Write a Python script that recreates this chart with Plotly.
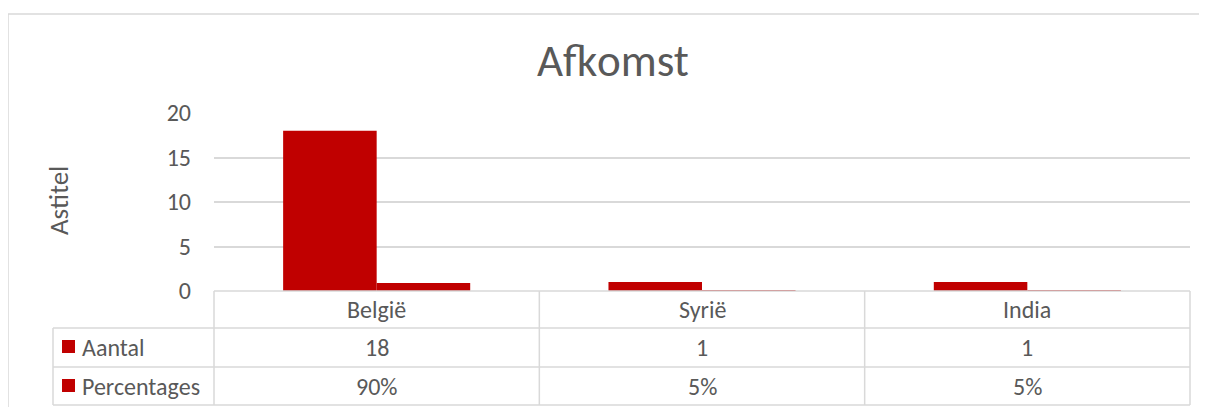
import plotly.graph_objects as go

categories = ["België", "Syrië", "India"]
aantal = [18, 1, 1]
percentages = [0.90, 0.05, 0.05]
series_names = ["Aantal", "Percentages"]
aantal_labels = ["18", "1", "1"]
pct_labels = ["90%", "5%", "5%"]
y_ticks = [0, 5, 10, 15, 20]

RED = "#c00000"
GRID = "#d9d9d9"
TXT = "#595959"
FONT = "Calibri, Carlito, Lato, sans-serif"

OFF = 8  # page body margin
W, H = 1207 - OFF, 407 - OFF
# plot area in page pixels: x 214..1190, y 113..291
L = 214 - OFF
T = 113 - OFF
R = W - (1190 - OFF)
B = H - (291 - OFF)
PW = W - L - R
PH = H - T - B


def px(xp):
    return (xp - OFF - L) / PW


def py(yp):
    return (H - B - (yp - OFF)) / PH


fig = go.Figure()
fig.add_trace(go.Bar(x=categories, y=aantal, name=series_names[0],
                     marker=dict(color=RED, line=dict(width=0))))
fig.add_trace(go.Bar(x=categories, y=percentages, name=series_names[1],
                     marker=dict(color=RED, line=dict(width=0))))

shapes = []
line = dict(color=GRID, width=1.5)
# chart border
shapes.append(dict(type="rect", xref="paper", yref="paper", x0=px(8), x1=px(1220),
                   y0=py(14), y1=py(430), line=line, layer="below"))
# table horizontal lines
shapes.append(dict(type="line", xref="paper", yref="paper", x0=0, x1=1, y0=0, y1=0, line=line))
for yy in (328, 367, 405):
    shapes.append(dict(type="line", xref="paper", yref="paper", x0=px(53), x1=1,
                       y0=py(yy), y1=py(yy), line=line))
# table vertical lines
n = len(categories)
for i in range(n + 1):
    shapes.append(dict(type="line", xref="paper", yref="paper", x0=i / n, x1=i / n,
                       y0=0, y1=py(405), line=line))
shapes.append(dict(type="line", xref="paper", yref="paper", x0=px(53), x1=px(53),
                   y0=py(328), y1=py(405), line=line))
# legend keys
for cy in (347, 386):
    shapes.append(dict(type="rect", xref="paper", yref="paper", x0=px(62), x1=px(75),
                       y0=py(cy - 7), y1=py(cy + 6), fillcolor=RED, line=dict(width=0)))

ann = []
tf = dict(family=FONT, size=24, color=TXT)
for i, c in enumerate(categories):
    ann.append(dict(x=c, xref="x", y=py(309), yref="paper", text=c, showarrow=False,
                    font=tf, xanchor="center", yanchor="middle"))
    ann.append(dict(x=c, xref="x", y=py(347), yref="paper", text=aantal_labels[i],
                    showarrow=False, font=tf, xanchor="center", yanchor="middle"))
    ann.append(dict(x=c, xref="x", y=py(386), yref="paper", text=pct_labels[i],
                    showarrow=False, font=tf, xanchor="center", yanchor="middle"))
for name, cy in zip(series_names, (347, 386)):
    ann.append(dict(x=px(80), xref="paper", y=py(cy), yref="paper", text=name,
                    showarrow=False, font=tf, xanchor="left", yanchor="middle"))
ann.append(dict(x=px(58), xref="paper", y=py(201), yref="paper", text="Astitel",
                textangle=-90, showarrow=False, font=dict(family=FONT, size=27, color=TXT),
                xanchor="center", yanchor="middle"))
ann.append(dict(x=px(613), xref="paper", y=py(60), yref="paper", text="Afkomst",
                showarrow=False, font=dict(family=FONT, size=45, color=TXT),
                xanchor="center", yanchor="middle"))

fig.update_layout(
    width=W, height=H,
    margin=dict(l=L, r=R, t=T, b=B, pad=0),
    paper_bgcolor="white", plot_bgcolor="white",
    barmode="group", bargap=0.425, bargroupgap=0,
    showlegend=False,
    shapes=shapes, annotations=ann,
    xaxis=dict(showticklabels=False, showgrid=False, zeroline=False, showline=False,
               ticks="", range=[-0.5, 2.5]),
    yaxis=dict(range=[0, 20], tickvals=y_ticks, showgrid=True, gridcolor=GRID, gridwidth=1.5,
               zeroline=False, showline=False, ticks="", ticklabelstandoff=22,
               tickfont=dict(family=FONT, size=24, color=TXT)),
)

fig.write_html("out.html")
